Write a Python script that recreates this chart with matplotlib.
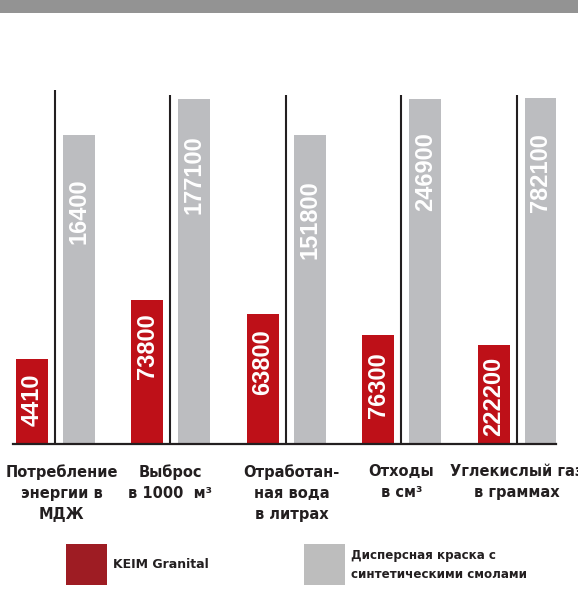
"""
Environmental footprint: KEIM Granital vs. dispersion paint (bar chart).
"""

import matplotlib
matplotlib.use("Agg")
import matplotlib.pyplot as plt
import numpy as np
from matplotlib.patches import Rectangle

plt.rcParams["font.family"] = ["DejaVu Sans"]

categories = [
    "Потребление\nэнергии в\nМДЖ",
    "Выброс\nв 1000  м³",
    "Отработан-\nная вода\nв литрах",
    "Отходы\nв см³",
    "Углекислый газ\nв граммах",
]
keim_labels = ["4410", "73800", "63800", "76300", "222200"]
paint_labels = ["16400", "177100", "151800", "246900", "782100"]
# visual bar heights as drawn in the picture (the units differ per group)
keim_heights = [85, 144, 130, 109, 99]
paint_heights = [309, 345, 309, 345, 346]
divider_heights = [354, 349, 349, 349, 349]
legend_names = ["KEIM Granital", "Дисперсная краска с\nсинтетическими смолами"]

RED = "#be1018"
GREY = "#bcbdc0"
DARK = "#231f20"

W, H = 578, 606
fig = plt.figure(figsize=(W / 100, H / 100), dpi=100)

# grey band at the top
fig.add_artist(Rectangle((0, 1 - 13 / H), 1, 13 / H, transform=fig.transFigure,
                         color="#939393", lw=0))

ax = fig.add_axes([13 / W, 1 - 444 / H, (556 - 13) / W, 400 / H])
ax.set_xlim(-0.3636, 4.338)
ax.set_ylim(0, 400)
ax.axis("off")

x = np.arange(len(categories))
bw = 0.277
ax.bar(x - 0.2, keim_heights, bw, color=RED, lw=0)
ax.bar(x + 0.205, paint_heights, bw, color=GREY, lw=0)
ax.vlines(x, 0, divider_heights, color=DARK, lw=1.5)
ax.axhline(0, color=DARK, lw=1.6, clip_on=False)

num_font = dict(family="Liberation Sans", fontsize=17, fontweight="bold",
                color="white", rotation=90, ha="center", va="top")
keim_off = [14, 13, 15, 17, 12]
paint_off = [43, 36, 45, 33, 35]
for xi, h, off, lab in zip(x, keim_heights, keim_off, keim_labels):
    ax.text(xi - 0.2, h - off, lab, **num_font)
for xi, h, off, lab in zip(x, paint_heights, paint_off, paint_labels):
    ax.text(xi + 0.205, h - off, lab, **num_font)

label_dx = [0.06, 0.0, 0.05, 0.0, 0.0]
for xi, dx, cat in zip(x, label_dx, categories):
    ax.text(xi + dx, -20, cat, ha="center", va="top", color=DARK,
            fontsize=10.5, fontweight="bold", linespacing=1.5)

# legend
for (px, col), name, fs in zip([(66, "#9e1c23"), (304, "#bdbdbd")],
                               legend_names, [9, 8.6]):
    fig.add_artist(Rectangle((px / W, 1 - 585 / H), 41 / W, 41 / H,
                             transform=fig.transFigure, color=col, lw=0))
    fig.text((px + 47) / W, 1 - 565 / H, name, ha="left", va="center",
             color=DARK, fontsize=fs, fontweight="bold", linespacing=1.55)

fig.savefig("out.png", dpi=100)
